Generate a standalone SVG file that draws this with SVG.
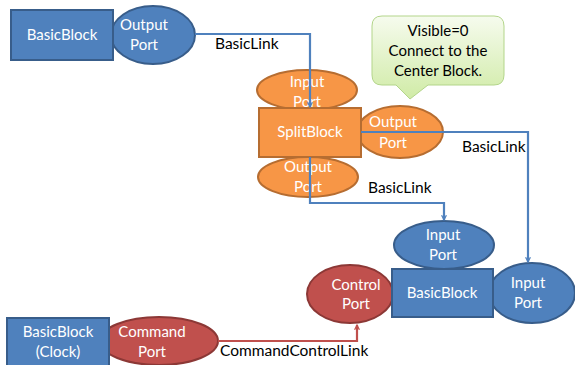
<svg xmlns="http://www.w3.org/2000/svg" width="575" height="365" viewBox="0 0 575 365">
<style>
.blue{fill:#4f81bd;stroke:#385d8a;stroke-width:2}
.orange{fill:#f79646;stroke:#b66d31;stroke-width:2}
.red{fill:#c0504d;stroke:#8c3836;stroke-width:2}
.nt{font-family:Lato,"Liberation Sans",sans-serif;font-size:15px;fill:#ffffff;text-anchor:middle}
.lt{font-family:Lato,"Liberation Sans",sans-serif;font-size:15.5px;fill:#000000}
.ct{font-family:Lato,"Liberation Sans",sans-serif;font-size:15px;fill:#000000;text-anchor:middle}
.lnb{fill:none;stroke:#4f81bd;stroke-width:2.2}
.lnr{fill:none;stroke:#c0504d;stroke-width:2.2}
</style>
<defs>
<marker id="ab" viewBox="0 0 10 10" refX="9" refY="5" markerWidth="6" markerHeight="6" markerUnits="userSpaceOnUse" orient="auto">
<path d="M1,1 L9,5 L1,9" fill="none" stroke="#4f81bd" stroke-width="2"/>
</marker>
<marker id="ar" viewBox="0 0 10 10" refX="9" refY="5" markerWidth="6" markerHeight="6" markerUnits="userSpaceOnUse" orient="auto">
<path d="M1,1 L9,5 L1,9" fill="none" stroke="#c0504d" stroke-width="2"/>
</marker>
<linearGradient id="cg" x1="0" y1="0" x2="0" y2="1">
<stop offset="0" stop-color="#f6fbee"/>
<stop offset="1" stop-color="#d0eba6"/>
</linearGradient>
</defs>

<g id="src-block">
<ellipse class="blue" cx="153" cy="35" rx="42" ry="29"/>
<rect class="blue" x="11" y="10" width="102" height="50"/>
<text class="nt" x="62" y="40">BasicBlock</text>
<text class="nt" x="144" y="30">Output</text>
<text class="nt" x="144" y="50">Port</text>
</g>

<g id="split-block">
<ellipse class="orange" cx="307" cy="90" rx="50" ry="20"/>
<ellipse class="orange" cx="308" cy="177" rx="50" ry="20"/>
<ellipse class="orange" cx="400" cy="132" rx="43" ry="26"/>
<rect class="orange" x="259" y="108" width="102" height="49"/>
<text class="nt" x="310" y="137">SplitBlock</text>
<text class="nt" x="307" y="87">Input</text>
<text class="nt" x="307" y="107">Port</text>
<text class="nt" x="393" y="127">Output</text>
<text class="nt" x="393" y="148">Port</text>
<text class="nt" x="308" y="172">Output</text>
<text class="nt" x="308" y="192">Port</text>
</g>

<g id="callout">
<path d="M382,16 H494 Q504,16 504,26 V75 Q504,85 494,85 H428 L410,99 L396,85 H382 Q372,85 372,75 V26 Q372,16 382,16 Z" fill="url(#cg)" stroke="#b3d58a" stroke-width="1"/>
<text class="ct" x="438" y="36">Visible=0</text>
<text class="ct" x="438" y="56">Connect to the</text>
<text class="ct" x="438" y="76">Center Block.</text>
</g>

<g id="dst-block">
<ellipse class="blue" cx="444" cy="245" rx="50" ry="24"/>
<ellipse class="blue" cx="532" cy="293" rx="43" ry="30"/>
<ellipse class="red" cx="350" cy="294" rx="43" ry="29"/>
<rect class="blue" x="392" y="269" width="101" height="48"/>
<text class="nt" x="442" y="298">BasicBlock</text>
<text class="nt" x="443" y="240">Input</text>
<text class="nt" x="443" y="260">Port</text>
<text class="nt" x="528" y="288">Input</text>
<text class="nt" x="528" y="308">Port</text>
<text class="nt" x="356" y="290">Control</text>
<text class="nt" x="356" y="309">Port</text>
</g>

<g id="clock-block">
<ellipse class="red" cx="159" cy="341" rx="59" ry="24"/>
<rect class="blue" x="7" y="318" width="102" height="52"/>
<text class="nt" x="58" y="337">BasicBlock</text>
<text class="nt" x="58" y="357">(Clock)</text>
<text class="nt" x="152" y="337">Command</text>
<text class="nt" x="152" y="357">Port</text>
</g>

<g id="connectors">
<path class="lnb" d="M195,34 H310 V107" marker-end="url(#ab)"/>
<path class="lnb" d="M361,132 H528 V262" marker-end="url(#ab)"/>
<path class="lnb" d="M310,157 V203 H444 V220" marker-end="url(#ab)"/>
<path class="lnr" d="M218,341 H357 V325" marker-end="url(#ar)"/>
<text class="lt" x="215" y="49">BasicLink</text>
<text class="lt" x="462" y="152">BasicLink</text>
<text class="lt" x="368" y="193">BasicLink</text>
<text class="lt" x="220" y="356">CommandControlLink</text>
</g>
</svg>
